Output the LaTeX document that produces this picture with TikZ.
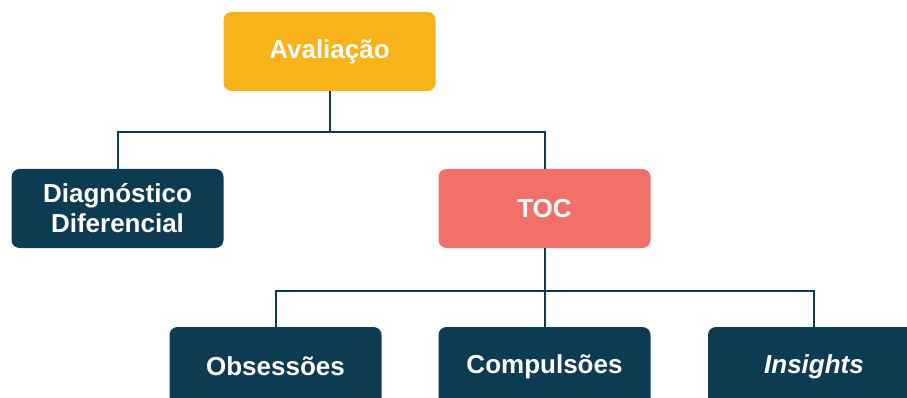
\documentclass[tikz,border=0pt]{standalone}
\usepackage{fontspec}
\setmainfont{Liberation Sans}
\definecolor{navy}{HTML}{0D3B52}
\definecolor{amber}{HTML}{F9B31A}
\definecolor{salmon}{HTML}{F2706A}
\tikzset{
  box/.style={rectangle, rounded corners=8pt, minimum width=212pt, minimum height=79pt,
    text=white, font=\fontsize{26}{30}\selectfont\bfseries, align=center, inner sep=0pt},
  link/.style={draw=navy, line width=2pt}
}
\begin{document}
\begin{tikzpicture}[x=1pt,y=-1pt]
\useasboundingbox (0,0) rectangle (907,398);
\node[box, fill=amber] (aval) at (329.5,51.5) {Avaliação};
\node[box, fill=navy] (diag) at (117.5,208.5) {Diagnóstico\\Diferencial};
\node[box, fill=salmon] (toc) at (544.5,208.5) {TOC};
\node[box, fill=navy] (obs) at (275.5,366.5) {Obsessões};
\node[box, fill=navy] (comp) at (544.5,366.5) {Compulsões};
\node[box, fill=navy] (ins) at (814,366.5) {\itshape Insights};
\coordinate (j1) at (329.5,132.5);
\coordinate (j2) at (544.5,290.5);
\draw[link] (aval.south) -- (j1) -| (diag.north);
\draw[link] (j1) -| (toc.north);
\draw[link] (toc.south) -- (comp.north);
\draw[link] (j2) -| (obs.north);
\draw[link] (j2) -| (ins.north);
\end{tikzpicture}
\end{document}
